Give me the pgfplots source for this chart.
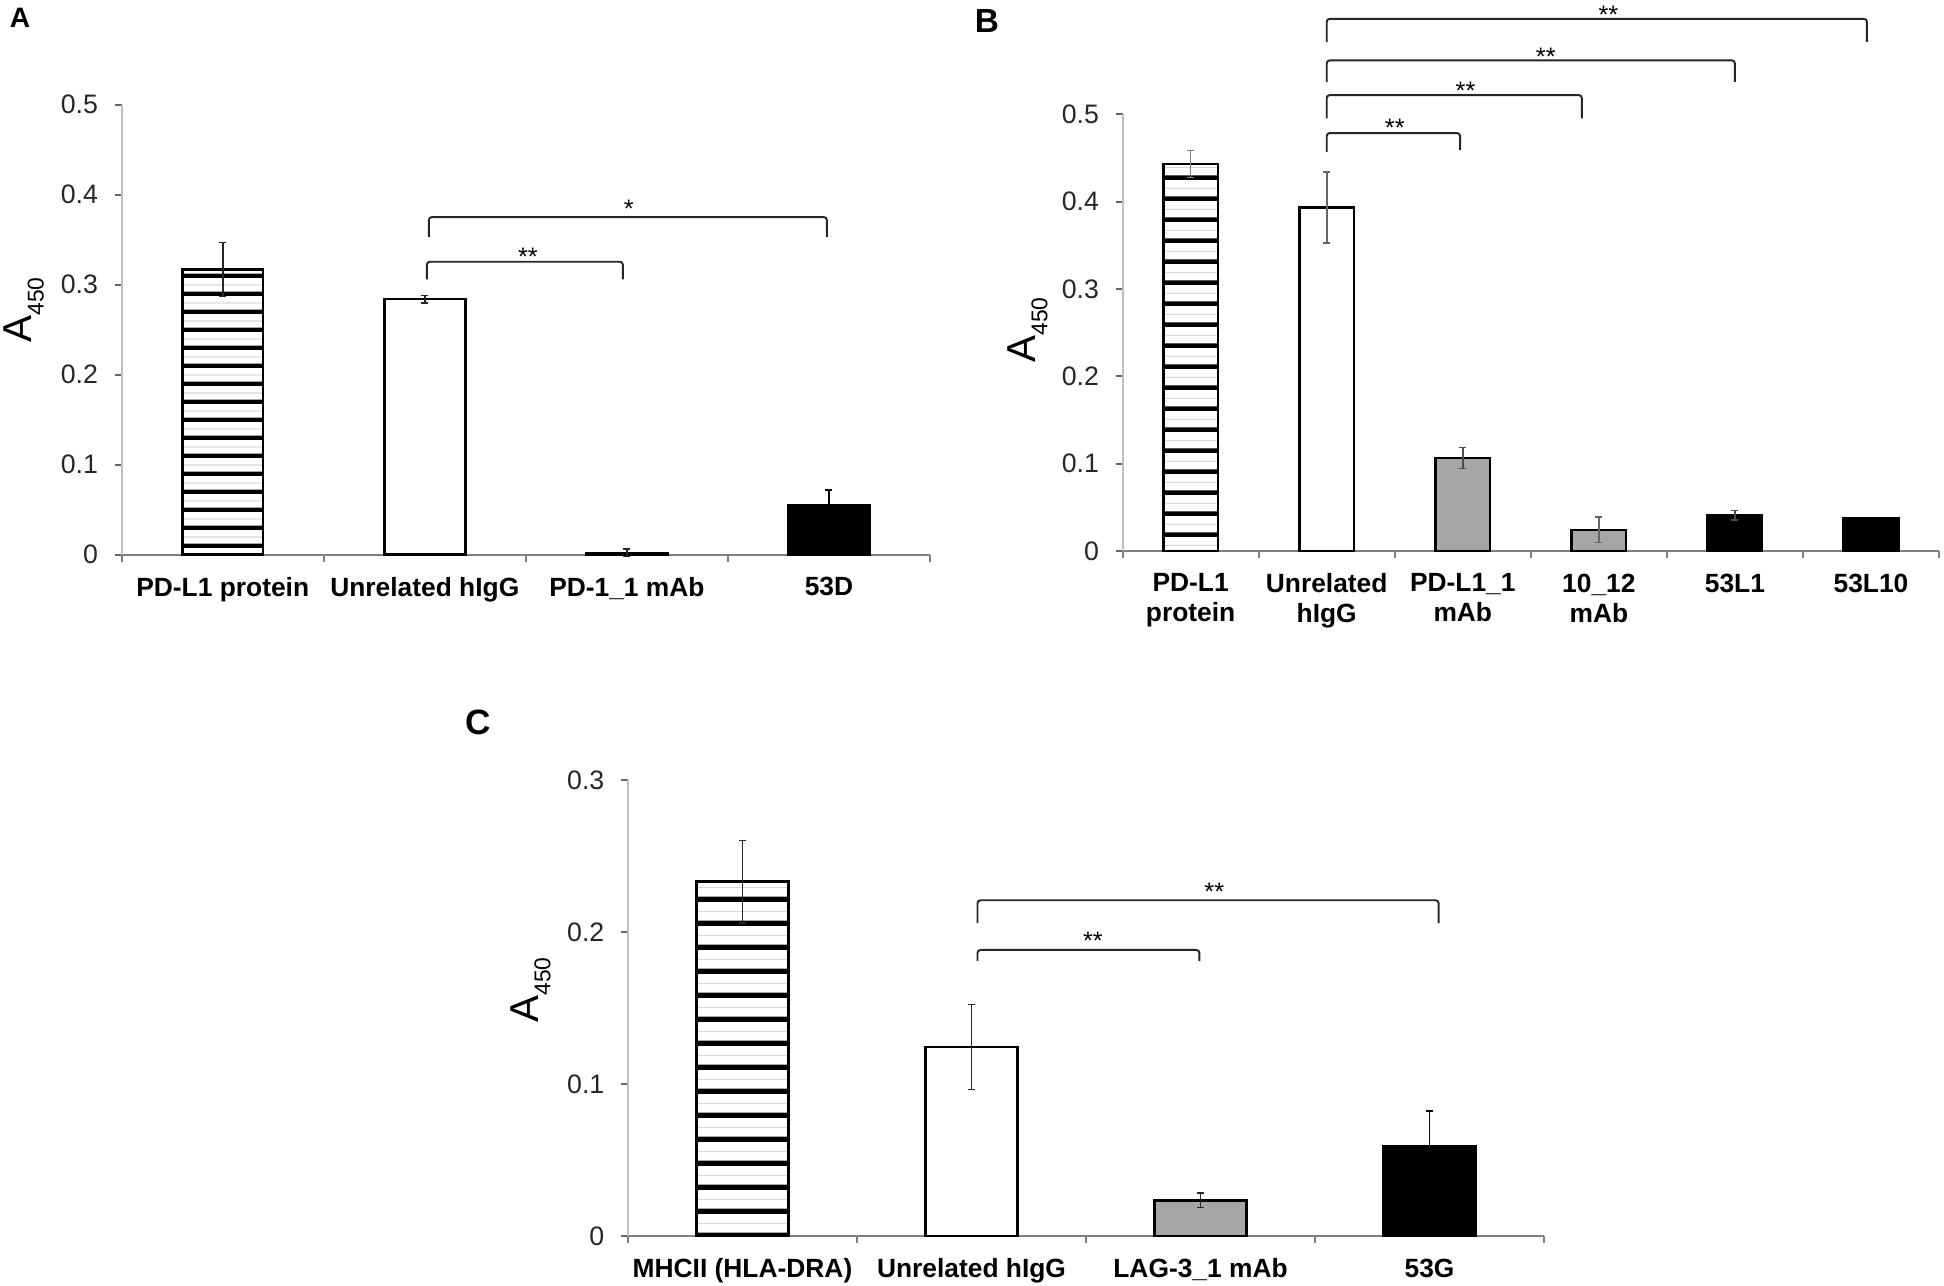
\documentclass[border=0pt]{standalone}
\usepackage{fontspec}
\setmainfont{Liberation Sans}
\usepackage{pgfplots}
\pgfplotsset{compat=1.18}
\usetikzlibrary{patterns.meta}

\tikzdeclarepattern{
  name=stripesA, type=colored,
  bottom left={(0cm,0cm)}, top right={(0.1cm,0.18cm)},
  tile size={(0.1cm,0.18cm)},
  code={
    \fill[black] (-0.01cm,0cm) rectangle (0.11cm,0.045cm);
    \fill[black!15] (-0.01cm,0.105cm) rectangle (0.11cm,0.115cm);
  }
}
\tikzdeclarepattern{
  name=stripesB, type=colored,
  bottom left={(0cm,0cm)}, top right={(0.1cm,0.214cm)},
  tile size={(0.1cm,0.214cm)},
  code={
    \fill[black] (-0.01cm,0cm) rectangle (0.11cm,0.048cm);
    \fill[black!15] (-0.01cm,0.125cm) rectangle (0.11cm,0.135cm);
  }
}
\tikzdeclarepattern{
  name=stripesC, type=colored,
  bottom left={(0cm,0cm)}, top right={(0.1cm,0.238cm)},
  tile size={(0.1cm,0.238cm)},
  code={
    \fill[black] (-0.01cm,0cm) rectangle (0.11cm,0.055cm);
    \fill[black!15] (-0.01cm,0.14cm) rectangle (0.11cm,0.15cm);
  }
}

\pgfplotsset{
  panel/.style={
    scale only axis, anchor=south west, at={(0,0)},
    axis x line=bottom, axis y line=left,
    axis line style={-},
    x axis line style={draw=black!50, line width=0.6pt},
    y axis line style={draw=black!25, line width=0.6pt},
    xmin=-0.5, ymin=0, enlargelimits=false, clip=false,
    tick align=outside,
    major tick length=0.07cm, minor tick length=0.07cm,
    major x tick style={draw=none},
    minor x tick style={draw=black!50, line width=0.6pt},
    major y tick style={draw=black!60, line width=0.5pt},
    yticklabel style={font=\fontsize{7.6}{9}\selectfont, text=black!85, anchor=east, inner sep=0pt, xshift=-0.16cm},
    xticklabel style={font=\bfseries\fontsize{7.5}{8.54}\selectfont, anchor=north, inner sep=0pt, align=center, yshift=-0.15cm},
    bar width=0.4,
  },
  hatchA/.style={ybar, bar shift=0pt, draw=black, line width=0.75pt, fill=white, postaction={pattern=stripesA}},
  hatchB/.style={ybar, bar shift=0pt, draw=black, line width=0.75pt, fill=white, postaction={pattern=stripesB}},
  hatchC/.style={ybar, bar shift=0pt, draw=black, line width=0.75pt, fill=white, postaction={pattern=stripesC}},
  whitebar/.style={ybar, bar shift=0pt, draw=black, line width=0.75pt, fill=white},
  graybar/.style={ybar, bar shift=0pt, draw=black, line width=0.75pt, fill=black!35},
  blackbar/.style={ybar, bar shift=0pt, draw=black, line width=0.75pt, fill=black},
  eb/.style={error bars/.cd, y dir=both, y explicit,
    error bar style={line width=0.45pt, draw=#1},
    error mark options={rotate=90, mark size=0.035cm, line width=0.45pt, draw=#1}},
  eb/.default=black!85,
}
\tikzset{
  brk/.style={draw=black!85, line width=0.55pt, rounded corners=0.03cm},
  star/.style={font=\fontsize{7.2}{8}\selectfont, anchor=base, inner sep=0pt, yshift=-0.16cm},
}

\begin{document}
\begin{tikzpicture}
\useasboundingbox (0,0) rectangle (19.44,12.85);

% Panel letters
\node[font=\bfseries\fontsize{8}{9}\selectfont, inner sep=0pt] at (0.20,12.67) {A};
\node[font=\bfseries\fontsize{9.5}{11}\selectfont, inner sep=0pt] at (9.87,12.64) {B};
\node[font=\bfseries\fontsize{10}{12}\selectfont, inner sep=0pt] at (4.78,5.63) {C};

% y labels
\node[rotate=90, anchor=base west, inner sep=0pt] at (0.317,9.417) {\fontsize{11.5}{13}\selectfont A\raisebox{-3.4pt}{\fontsize{6.5}{7}\selectfont 450}};
\node[rotate=90, anchor=base west, inner sep=0pt] at (10.353,9.217) {\fontsize{11.5}{13}\selectfont A\raisebox{-3.4pt}{\fontsize{6.5}{7}\selectfont 450}};
\node[rotate=90, anchor=base west, inner sep=0pt] at (5.383,2.617) {\fontsize{11.5}{13}\selectfont A\raisebox{-3.4pt}{\fontsize{6.5}{7}\selectfont 450}};

% ---------------- Panel A ----------------
\begin{scope}[shift={(1.217,7.303)}]
\begin{axis}[panel, width=8.083cm, height=4.499cm,
  xmax=3.5, ymax=0.5,
  xtick={0,1,2,3}, minor xtick={-0.5,0.5,1.5,2.5,3.5},
  xticklabels={PD-L1 protein, Unrelated hIgG, PD-1\_1 mAb, 53D},
  ytick={0,0.1,0.2,0.3,0.4,0.5}, yticklabels={0,0.1,0.2,0.3,0.4,0.5}]
\addplot[hatchA, eb] coordinates {(0,0.317) +- (0,0.030)};
\addplot[whitebar, eb] coordinates {(1,0.284) +- (0,0.004)};
\addplot[graybar, eb] coordinates {(2,0.002) +- (0,0.004)};
\addplot[blackbar, eb=black] coordinates {(3,0.055) +- (0,0.017)};
\draw[brk] (axis cs:1.01,0.306) -- (axis cs:1.01,0.3256) -- (axis cs:1.98,0.3256) -- (axis cs:1.98,0.306);
\node[star] at (axis cs:1.51,0.339) {**};
\draw[brk] (axis cs:1.02,0.353) -- (axis cs:1.02,0.3752) -- (axis cs:2.99,0.3752) -- (axis cs:2.99,0.353);
\node[star] at (axis cs:2.01,0.392) {*};
\end{axis}
\end{scope}

% ---------------- Panel B ----------------
\begin{scope}[shift={(11.226,7.339)}]
\begin{axis}[panel, width=8.164cm, height=4.368cm,
  xmax=5.5, ymax=0.5,
  xtick={0,1,2,3,4,5}, minor xtick={-0.5,0.5,1.5,2.5,3.5,4.5,5.5},
  xticklabels={{PD-L1\\protein}, {Unrelated\\hIgG}, {PD-L1\_1\\mAb}, {10\_12\\mAb}, 53L1, 53L10},
  ytick={0,0.1,0.2,0.3,0.4,0.5}, yticklabels={0,0.1,0.2,0.3,0.4,0.5}]
\addplot[hatchB, eb=black!50] coordinates {(0,0.443) +- (0,0.0155)};
\addplot[whitebar, eb=black!60] coordinates {(1,0.3935) +- (0,0.0405)};
\addplot[graybar, eb=black!70] coordinates {(2,0.1065) +- (0,0.012)};
\addplot[graybar, eb=black!60] coordinates {(3,0.0243) +- (0,0.0145)};
\addplot[blackbar, eb=black!70] coordinates {(4,0.0411) +- (0,0.0055)};
\addplot[blackbar, eb=black] coordinates {(5,0.0374) +- (0,0.001)};
\draw[brk] (axis cs:1.0,0.457) -- (axis cs:1.0,0.4785) -- (axis cs:1.98,0.4785) -- (axis cs:1.98,0.459);
\node[star] at (axis cs:1.50,0.493) {**};
\draw[brk] (axis cs:1.0,0.4953) -- (axis cs:1.0,0.522) -- (axis cs:2.875,0.522) -- (axis cs:2.875,0.4953);
\node[star] at (axis cs:2.02,0.535) {**};
\draw[brk] (axis cs:1.0,0.537) -- (axis cs:1.0,0.5617) -- (axis cs:4.0,0.5617) -- (axis cs:4.0,0.537);
\node[star] at (axis cs:2.61,0.574) {**};
\draw[brk] (axis cs:1.0,0.583) -- (axis cs:1.0,0.6093) -- (axis cs:4.97,0.6093) -- (axis cs:4.97,0.583);
\node[star] at (axis cs:3.07,0.622) {**};
\end{axis}
\end{scope}

% ---------------- Panel C ----------------
\begin{scope}[shift={(6.28,0.489)}]
\begin{axis}[panel, width=9.16cm, height=4.559cm,
  xmax=3.5, ymax=0.3,
  xtick={0,1,2,3}, minor xtick={-0.5,0.5,1.5,2.5,3.5},
  xticklabels={MHCII (HLA-DRA), Unrelated hIgG, LAG-3\_1 mAb, 53G},
  ytick={0,0.1,0.2,0.3}, yticklabels={0,0.1,0.2,0.3}]
\addplot[hatchC, eb] coordinates {(0,0.2332) +- (0,0.027)};
\addplot[whitebar, eb] coordinates {(1,0.1245) +- (0,0.028)};
\addplot[graybar, eb] coordinates {(2,0.0236) +- (0,0.0048)};
\addplot[blackbar, eb=black] coordinates {(3,0.0592) +- (0,0.023)};
\draw[brk] (axis cs:1.026,0.181) -- (axis cs:1.026,0.1883) -- (axis cs:1.995,0.1883) -- (axis cs:1.995,0.181);
\node[star] at (axis cs:1.53,0.199) {**};
\draw[brk] (axis cs:1.026,0.206) -- (axis cs:1.026,0.221) -- (axis cs:3.04,0.221) -- (axis cs:3.04,0.206);
\node[star] at (axis cs:2.06,0.2313) {**};
\end{axis}
\end{scope}
\end{tikzpicture}
\end{document}
